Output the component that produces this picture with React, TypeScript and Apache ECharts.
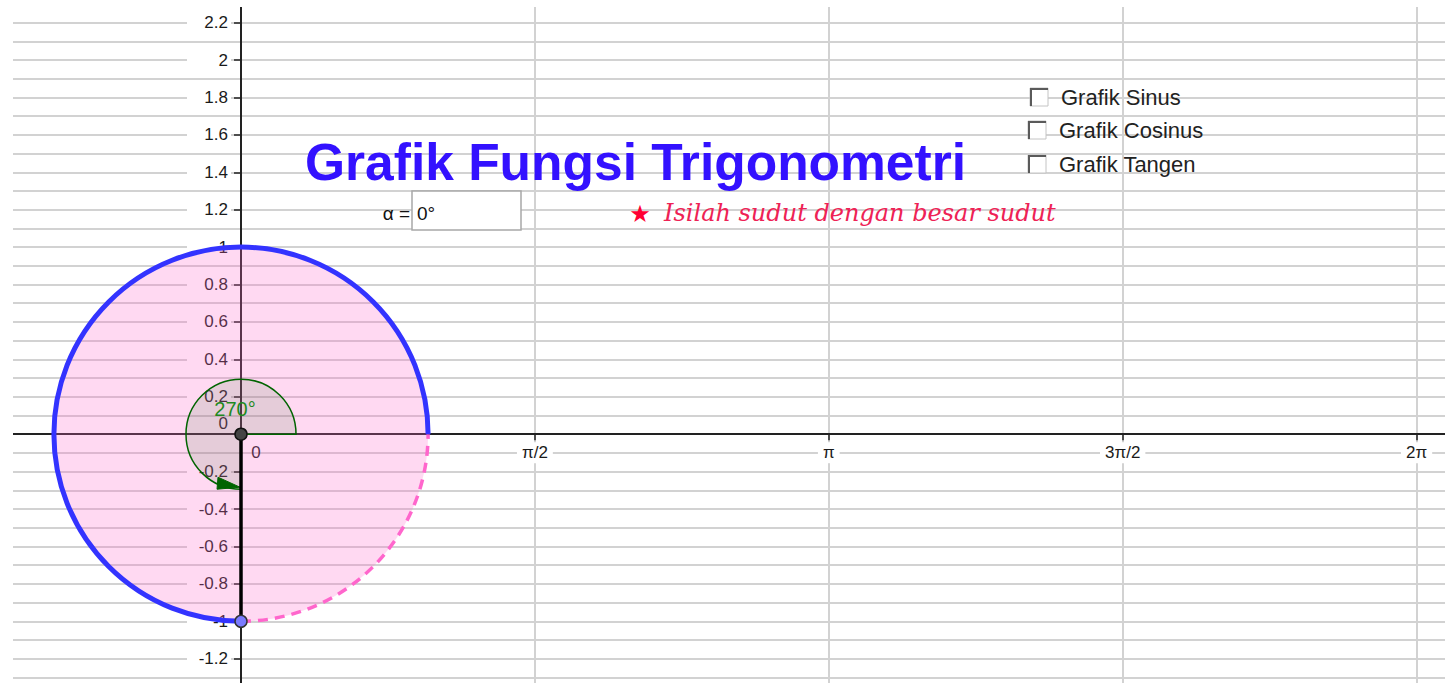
import React, { useEffect, useRef } from 'react';
import * as echarts from 'echarts';

// ---- data ----
const HALF_PI = Math.PI / 2;
const xTickLabels = ['0', 'π/2', 'π', '3π/2', '2π'];
const xRange = [-HALF_PI, 5 * HALF_PI];
const yRange = [-1.4, 2.4];
const yLabelStep = 0.2;
const circleData = [[0, 0, 1]]; // centre x, centre y, radius
const angleDeg = 270;
const angleRadius = 0.294;
const segmentData = [[0, 0], [0, -1]];
const originPoint = [[0, 0]];
const endPoint = [[0, -1]];
const titleText = 'Grafik Fungsi Trigonometri';
const hintText = 'Isilah sudut dengan besar sudut';
const alphaLabel = 'α =';
const alphaValue = '0°';
const angleLabel = '270°';
const checkboxLabels = ['Grafik Sinus', 'Grafik Cosinus', 'Grafik Tangen'];

const SANS = '"Liberation Sans", Arial, sans-serif';
const GRID_COLOR = '#d2d2d2';
const LABEL_COLOR = '#1a1a1a';

// view geometry (chart container is 1432 x 676, origin of the axes at 228, 427.2)
const W = 1432;
const H = 676;
const PX_PER_UNIT = 187.1;
const ORIGIN_X = 228;
const ORIGIN_Y = 427.2;

function buildOption() {
  const gridLeft = ORIGIN_X + xRange[0] * PX_PER_UNIT;
  const gridRight = W - (ORIGIN_X + xRange[1] * PX_PER_UNIT);
  const gridTop = ORIGIN_Y - yRange[1] * PX_PER_UNIT;
  const gridBottom = H - (ORIGIN_Y - yRange[0] * PX_PER_UNIT);
  const yAxisOffset = -(ORIGIN_X - gridLeft);
  const xAxisOffset = -(H - gridBottom - ORIGIN_Y);

  const checkboxRows = [
    { bx: 1017, by: 81, tx: 1048, ty: 90 },
    { bx: 1015, by: 114, tx: 1046, ty: 123 },
    { bx: 1015, by: 148, tx: 1046, ty: 157 },
  ];
  const checkboxGraphics: any[] = [];
  checkboxLabels.forEach((label, i) => {
    const r = checkboxRows[i];
    checkboxGraphics.push({
      type: 'rect', z: 100,
      shape: { x: r.bx, y: r.by, width: 18, height: 18 },
      style: { fill: '#fff', stroke: '#c4c4c4', lineWidth: 1 },
    });
    checkboxGraphics.push({
      type: 'polyline', z: 101,
      shape: { points: [[r.bx + 1, r.by + 18], [r.bx + 1, r.by + 1], [r.bx + 18, r.by + 1]] },
      style: { stroke: '#5a5a5a', lineWidth: 2, fill: null },
    });
    checkboxGraphics.push({
      type: 'text', z: 101, x: r.tx, y: r.ty,
      style: { text: label, font: `22px ${SANS}`, fill: '#222', textVerticalAlign: 'middle', textAlign: 'left' },
    });
  });

  return {
    animation: false,
    backgroundColor: '#fff',
    grid: { left: gridLeft, right: gridRight, top: gridTop, bottom: gridBottom, containLabel: false, outerBoundsMode: 'none' },
    xAxis: {
      type: 'value',
      position: 'bottom',
      offset: xAxisOffset,
      min: xRange[0],
      max: xRange[1],
      interval: HALF_PI,
      axisLine: { onZero: false, lineStyle: { color: '#222', width: 2 } },
      axisTick: { show: true, length: 6, lineStyle: { color: '#222', width: 1.5 } },
      splitLine: { show: true, lineStyle: { color: GRID_COLOR, width: 2 } },
      axisLabel: {
        margin: 8,
        fontSize: 17,
        fontFamily: SANS,
        color: LABEL_COLOR,
        showMinLabel: false,
        showMaxLabel: false,
        formatter: (v: number) => {
          const k = Math.round(v / HALF_PI);
          if (k === 0) return `{z|${xTickLabels[0]}}`;
          if (k < 0 || k >= xTickLabels.length) return '';
          return `{b|${xTickLabels[k]}}`;
        },
        rich: {
          b: { backgroundColor: '#fff', padding: [2, 5, 2, 5], fontSize: 17, fontFamily: SANS, color: LABEL_COLOR },
          z: { padding: [2, 0, 2, 30], fontSize: 17, fontFamily: SANS, color: LABEL_COLOR },
        },
      },
    },
    yAxis: {
      type: 'value',
      position: 'left',
      offset: yAxisOffset,
      min: yRange[0],
      max: yRange[1],
      interval: yLabelStep,
      axisLine: { onZero: false, lineStyle: { color: '#222', width: 2 } },
      axisTick: { show: true, length: 7, lineStyle: { color: '#222', width: 1.5 } },
      splitLine: { show: true, lineStyle: { color: GRID_COLOR, width: 2 } },
      minorTick: { show: false, splitNumber: 2 },
      minorSplitLine: { show: true, lineStyle: { color: GRID_COLOR, width: 2 } },
      axisLabel: {
        margin: 10,
        fontSize: 17,
        fontFamily: SANS,
        color: LABEL_COLOR,
        showMinLabel: false,
        showMaxLabel: false,
        formatter: (v: number) => {
          const s = String(Math.round(v * 10) / 10);
          if (Math.abs(v) < 1e-9) return '{z|0}';
          return `{b|${s}}`;
        },
        rich: {
          b: { backgroundColor: '#fff', padding: [2, 3, 2, 5], width: 36, align: 'right', fontSize: 17, fontFamily: SANS, color: LABEL_COLOR },
          z: { padding: [0, 3, 22, 0], fontSize: 17, fontFamily: SANS, color: LABEL_COLOR },
        },
      },
    },
    series: [
      {
        type: 'custom',
        z: 2,
        data: circleData,
        encode: { x: 0, y: 1 },
        renderItem: (params: any, api: any) => {
          const c = api.coord([api.value(0), api.value(1)]);
          const r = api.size([api.value(2), 0])[0];
          const ra = api.size([angleRadius, 0])[0];
          const a = (angleDeg * Math.PI) / 180;
          const ex = c[0] + ra * Math.cos(a);
          const ey = c[1] - ra * Math.sin(a);
          const tx = -Math.sin(a), ty = -Math.cos(a);
          const nx = Math.cos(a), ny = -Math.sin(a);
          const pt = (t: number, n: number) => [ex + t * tx + n * nx, ey + t * ty + n * ny];
          return {
            type: 'group',
            children: [
              { type: 'circle', shape: { cx: c[0], cy: c[1], r }, style: { fill: 'rgba(255,102,204,0.25)' } },
              {
                type: 'sector',
                shape: { cx: c[0], cy: c[1], r0: 0, r: ra, startAngle: 0, endAngle: -a, clockwise: false },
                style: { fill: 'rgba(0,100,0,0.1)', stroke: '#006400', lineWidth: 1.5 },
              },
              {
                type: 'arc',
                shape: { cx: c[0], cy: c[1], r, startAngle: -a, endAngle: -2 * Math.PI, clockwise: false },
                style: { fill: null, stroke: '#ff66cc', lineWidth: 3.5, lineDash: [10, 7] },
              },
              {
                type: 'arc',
                shape: { cx: c[0], cy: c[1], r, startAngle: 0, endAngle: -a, clockwise: false },
                style: { fill: null, stroke: '#3333ff', lineWidth: 5 },
              },
              {
                type: 'polygon',
                shape: { points: [pt(-1, -2), pt(-23, -12), pt(-24, 0)] },
                style: { fill: '#006400', stroke: '#006400', lineWidth: 1 },
              },
            ],
          };
        },
      },
      {
        type: 'line',
        z: 3,
        data: segmentData,
        symbol: 'none',
        lineStyle: { color: '#000', width: 3.5 },
      },
      {
        type: 'scatter',
        z: 4,
        data: originPoint,
        symbolSize: 12,
        itemStyle: { color: '#444', borderColor: '#111', borderWidth: 1.5, opacity: 1 },
      },
      {
        type: 'scatter',
        z: 4,
        data: endPoint,
        symbolSize: 12,
        itemStyle: { color: '#7b7bff', borderColor: '#333', borderWidth: 1.5, opacity: 1 },
      },
      {
        type: 'custom',
        z: 5,
        data: originPoint,
        encode: { x: 0, y: 1 },
        renderItem: (params: any, api: any) => {
          const c = api.coord([api.value(0), api.value(1)]);
          return {
            type: 'text',
            x: c[0] - 6,
            y: c[1] - 25,
            style: { text: angleLabel, font: `20px ${SANS}`, fill: '#1f8a1f', textAlign: 'center', textVerticalAlign: 'middle' },
          };
        },
      },
    ],
    graphic: [
      {
        type: 'text', z: 100, x: 292, y: 155,
        style: { text: titleText, font: `bold 51.5px ${SANS}`, fill: '#3311ff', textAlign: 'left', textVerticalAlign: 'middle' },
      },
      {
        type: 'text', z: 100, x: 397, y: 206,
        style: { text: alphaLabel, font: `19px ${SANS}`, fill: '#111', textAlign: 'right', textVerticalAlign: 'middle' },
      },
      {
        type: 'rect', z: 100,
        shape: { x: 399, y: 184, width: 109, height: 39 },
        style: { fill: '#fff', stroke: '#a8a8a8', lineWidth: 1.5 },
      },
      {
        type: 'text', z: 101, x: 404, y: 206,
        style: { text: alphaValue, font: `19px ${SANS}`, fill: '#111', textAlign: 'left', textVerticalAlign: 'middle' },
      },
      {
        type: 'text', z: 100, x: 627, y: 207,
        style: { text: '★', font: `24px "DejaVu Sans", sans-serif`, fill: '#ff0033', textAlign: 'center', textVerticalAlign: 'middle' },
      },
      {
        type: 'text', z: 100, x: 651, y: 206,
        style: { text: hintText, font: `italic 24px "DejaVu Serif", serif`, fill: '#ee2255', textAlign: 'left', textVerticalAlign: 'middle' },
      },
      ...checkboxGraphics,
    ],
  };
}

export default function App() {
  const ref = useRef<HTMLDivElement>(null);
  useEffect(() => {
    if (!ref.current) return;
    const chart = echarts.init(ref.current, null, { renderer: 'svg' });
    chart.setOption(buildOption() as any);
    return () => chart.dispose();
  }, []);
  return (
    <div
      ref={ref}
      style={{ position: 'absolute', left: 13, top: 7, width: W, height: H, overflow: 'hidden', background: '#fff' }}
    />
  );
}
